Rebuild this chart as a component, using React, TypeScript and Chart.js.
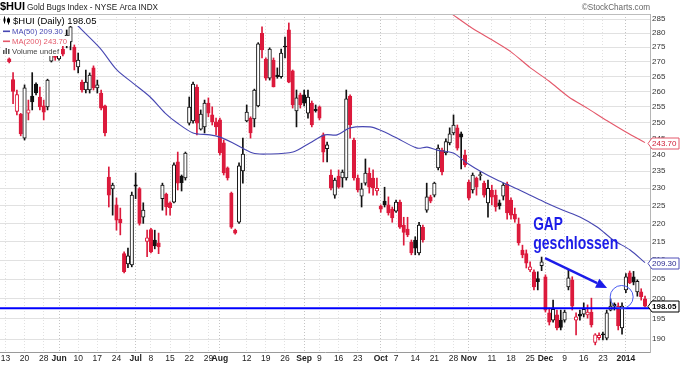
import React, { useEffect, useRef } from 'react';
import { Chart, registerables } from 'chart.js';

Chart.register(...registerables);

// ---------------- data ----------------
// trading-day index 0 = Mon 13 May 2013; first visible candle is day 1
const FIRST_DAY = 1;

const opens = [
  271.0, 264.0, 253.5, 252.7, 245.1, 253.0, 258.5, 262.5, 258.2, 255.3,
  255.0, 270.2, 274.0, 271.0, 274.4, 275.8, 276.9, 275.1, 268.2, 263.1,
  260.5, 260.5, 267.9, 261.2, 259.5, 255.3, 233.3, 229.8, 225.2, 221.2,
  211.7, 209.0, 208.7, 231.0, 229.9, 221.7, 215.0, 218.3, 215.4, 214.6,
  227.0, 228.3, 225.8, 226.0, 237.8, 233.6, 233.0, 249.8, 250.5, 261.5,
  247.9, 248.6, 256.2, 252.4, 250.2, 250.8, 243.6, 236.0, 228.6, 218.1,
  220.3, 235.1, 250.5, 251.4, 251.1, 255.3, 279.9, 270.9, 264.4, 270.6,
  265.5, 264.9, 275.4, 281.1, 266.9, 253.7, 258.9, 258.9, 253.0, 256.2,
  254.2, 255.0, 246.1, 241.8, 233.9, 228.0, 233.6, 233.0, 233.0, 258.5,
  244.5, 233.0, 227.7, 231.5, 234.5, 233.0, 229.2, 224.9, 226.3, 225.2,
  224.0, 223.4, 226.0, 219.5, 218.4, 214.8, 215.4, 211.9, 218.9, 223.7,
  227.5, 228.0, 236.0, 241.4, 240.5, 243.6, 246.7, 248.3, 246.4, 239.9,
  231.8, 229.5, 233.0, 233.7, 231.5, 225.8, 229.5, 228.0, 225.8, 227.7,
  231.2, 226.6, 222.6, 219.8, 212.7, 211.7, 207.4, 206.9, 205.1, 208.5,
  205.6, 196.4, 194.6, 195.9, 194.6, 194.6, 203.0, 204.8, 194.6, 196.1,
  196.1, 195.9, 196.6, 189.2, 190.3, 191.2, 190.2, 197.1, 198.6, 198.1,
  192.7, 202.2, 206.6, 205.6, 201.7, 201.7, 199.9,
];
const highs = [
  271.3, 266.3, 260.5, 252.9, 262.2, 257.2, 266.3, 262.9, 261.5, 257.2,
  264.1, 275.8, 275.0, 276.0, 275.5, 281.1, 282.9, 275.8, 273.0, 263.8,
  267.2, 266.2, 268.6, 263.8, 260.5, 255.6, 236.3, 231.5, 227.2, 224.3,
  212.2, 213.2, 228.9, 234.5, 230.2, 225.8, 218.1, 218.6, 218.1, 217.3,
  231.5, 228.6, 226.1, 237.5, 240.8, 233.9, 240.8, 258.2, 263.1, 262.2,
  254.0, 257.2, 257.9, 255.0, 251.4, 251.4, 244.5, 236.3, 228.9, 218.4,
  237.5, 245.1, 255.6, 251.8, 260.8, 276.6, 282.2, 271.3, 274.8, 271.3,
  267.9, 274.4, 278.6, 283.6, 267.2, 260.5, 259.5, 260.5, 260.5, 256.9,
  255.6, 255.3, 246.7, 243.9, 235.4, 233.0, 235.4, 235.4, 260.5, 258.9,
  245.1, 233.9, 231.5, 238.7, 236.0, 235.4, 233.0, 225.2, 230.3, 227.5,
  224.6, 226.6, 226.6, 221.7, 221.7, 215.4, 216.3, 220.3, 219.5, 231.5,
  228.0, 231.8, 243.0, 242.0, 244.9, 248.3, 252.4, 249.2, 247.0, 241.4,
  232.4, 234.5, 233.3, 234.8, 232.1, 232.4, 230.9, 229.5, 226.6, 231.5,
  231.8, 227.2, 224.3, 221.5, 214.0, 212.7, 209.5, 207.4, 206.9, 210.8,
  206.1, 197.6, 199.6, 197.1, 197.1, 197.1, 207.4, 205.6, 196.4, 197.1,
  198.9, 198.4, 200.1, 191.3, 191.5, 191.7, 197.1, 199.9, 198.9, 198.9,
  198.9, 206.4, 207.1, 207.0, 204.8, 202.5, 200.6,
];
const lows = [
  269.6, 256.0, 252.4, 245.8, 244.5, 250.8, 254.0, 258.9, 254.0, 250.8,
  254.0, 269.9, 270.5, 270.5, 272.0, 274.8, 274.1, 267.2, 266.2, 259.8,
  259.5, 259.5, 260.5, 259.5, 254.0, 245.8, 224.6, 222.3, 218.1, 216.8,
  206.6, 208.0, 208.2, 227.0, 219.5, 220.0, 210.9, 211.9, 213.0, 211.7,
  223.7, 222.3, 222.3, 225.8, 229.5, 229.2, 232.4, 249.2, 249.8, 246.1,
  247.6, 246.7, 251.8, 249.2, 246.1, 239.9, 233.9, 232.4, 218.6, 217.0,
  220.0, 231.5, 250.2, 245.1, 248.6, 255.0, 271.3, 263.8, 263.8, 261.5,
  264.4, 264.4, 271.3, 262.9, 254.6, 248.6, 254.6, 255.3, 251.4, 248.6,
  253.3, 250.8, 237.8, 237.8, 229.5, 227.1, 230.0, 230.3, 232.4, 245.1,
  232.4, 228.9, 224.6, 230.9, 228.6, 228.0, 228.0, 223.1, 224.6, 222.3,
  220.3, 223.1, 218.6, 214.0, 216.3, 211.4, 211.4, 211.4, 214.8, 223.1,
  225.8, 227.5, 235.4, 233.9, 239.9, 243.0, 246.1, 241.4, 235.7, 236.3,
  226.6, 228.6, 228.0, 232.4, 227.4, 221.7, 225.2, 223.4, 224.0, 226.6,
  221.2, 221.2, 220.3, 214.0, 210.6, 207.9, 206.9, 202.2, 202.2, 207.2,
  196.6, 193.4, 194.1, 192.2, 192.2, 194.1, 202.2, 197.1, 191.0, 194.6,
  195.4, 195.1, 192.9, 188.6, 189.8, 189.8, 189.8, 196.9, 197.1, 192.2,
  191.2, 201.5, 203.8, 203.5, 200.6, 199.6, 197.9,
];
const closes = [
  270.0, 260.0, 259.0, 246.4, 261.2, 254.0, 256.6, 259.5, 255.0, 253.3,
  263.8, 275.1, 271.5, 274.5, 272.6, 279.3, 282.2, 269.9, 270.6, 260.5,
  263.1, 265.5, 261.2, 262.2, 254.6, 246.7, 228.0, 230.9, 220.9, 220.1,
  206.9, 211.1, 228.0, 230.6, 220.0, 223.7, 216.0, 212.2, 213.8, 213.5,
  230.9, 224.6, 224.4, 236.9, 231.5, 231.6, 240.5, 254.9, 262.5, 249.8,
  252.7, 256.2, 253.0, 250.2, 248.6, 240.5, 234.5, 233.0, 218.9, 217.3,
  236.6, 240.2, 253.3, 246.7, 260.5, 276.2, 274.1, 264.4, 274.4, 261.5,
  264.9, 273.0, 275.1, 263.1, 255.6, 257.9, 255.6, 256.2, 258.2, 249.2,
  253.8, 251.4, 240.8, 243.0, 230.0, 232.4, 230.3, 234.8, 257.6, 249.2,
  233.0, 229.5, 229.8, 234.5, 230.3, 230.1, 230.0, 224.0, 225.2, 222.9,
  221.5, 226.0, 218.9, 217.5, 216.8, 211.9, 213.2, 219.5, 215.4, 227.5,
  226.3, 231.5, 242.0, 234.8, 244.0, 246.4, 249.2, 242.0, 245.4, 236.9,
  227.1, 233.9, 230.3, 233.9, 228.0, 230.0, 227.4, 224.6, 224.9, 230.9,
  222.9, 222.3, 221.2, 214.6, 211.4, 209.2, 208.2, 203.0, 204.3, 209.5,
  197.1, 194.1, 197.3, 192.7, 192.8, 196.6, 205.3, 198.1, 195.4, 195.6,
  197.3, 196.6, 193.4, 191.0, 190.9, 191.0, 196.4, 198.1, 198.2, 193.2,
  198.1, 205.6, 204.0, 204.2, 204.4, 200.5, 198.05,
];

// moving averages (trading-day index, value)
const ma50Days = [15, 18.7, 24.7, 29.1, 33.3, 37.8, 41.7, 44.8, 49, 53.4, 56, 59.4, 64.6, 68.3, 75.1, 79.5, 83.4, 86.6, 90, 95.2, 97.8, 102.2, 107.5, 110.1, 112.7, 116.9, 120.5, 123.9, 128.4, 132.5, 137, 141.4, 145.6, 150, 154.5, 158.7, 163.1, 167];
const ma50Values = [289.0, 282.9, 274.7, 267.2, 262.8, 258.2, 253.0, 249.9, 246.7, 246.1, 245.4, 243.6, 240.5, 240.2, 240.8, 243.6, 246.1, 246.1, 248.3, 248.6, 247.6, 245.1, 242.0, 242.3, 241.4, 240.5, 237.5, 235.1, 232.4, 230.4, 228.0, 225.7, 223.7, 221.8, 219.0, 215.4, 212.7, 209.3];
const ma200Days = [116, 122, 127, 132, 137, 142, 147, 152, 157, 162, 167];
const ma200Values = [287.4, 281.6, 277.6, 273.4, 268.0, 263.4, 258.3, 254.5, 250.6, 247.0, 243.7];

const gapLevel = 197.55;

const yTicks = [190, 195, 200, 205, 210, 215, 220, 225, 230, 235, 240, 245, 250, 255, 260, 265, 270, 275, 280, 285];
const xTickDays = [0, 5, 10, 14, 19, 24, 29, 34, 38, 43, 48, 53, 56, 63, 68, 73, 78, 82, 87, 92, 98, 102, 107, 112, 117, 121, 127, 132, 137, 141, 146, 151, 156, 162];
const xTickLabels = ['13', '20', '28', 'Jun', '10', '17', '24', 'Jul', '8', '15', '22', '29', 'Aug', '12', '19', '26', 'Sep', '9', '16', '23', 'Oct', '7', '14', '21', '28', 'Nov', '11', '18', '25', 'Dec', '9', '16', '23', '2014'];
const monthLabels = ['Jun', 'Jul', 'Aug', 'Sep', 'Oct', 'Nov', 'Dec', '2014'];

// ---------------- styling ----------------
const X_MIN = -1.41;
const X_MAX = 168.3;
const Y_MIN = 186.9;
const Y_MAX = 286.84;
const RED = '#dc1a3c';
const BLACK = '#111111';
const MA50_COLOR = '#4747b2';
const MA200_COLOR = '#e4586a';
const GAP_BLUE = '#1c1ce8';
const FONT = '"Liberation Sans", Arial, sans-serif';

const candleColor = (k: number) => {
  const prev = k > 0 ? closes[k - 1] : opens[k];
  return closes[k] < prev ? RED : BLACK;
};
const isFilled = (k: number) => closes[k] < opens[k];

const overlayPlugin = {
  id: 'overlay',
  afterDraw(chart: any) {
    const { ctx, chartArea, scales } = chart;
    const xs = scales.x;
    const ys = scales.y;
    ctx.save();

    // top frame
    ctx.strokeStyle = '#bdbdbd';
    ctx.lineWidth = 1;
    ctx.beginPath();
    ctx.moveTo(chartArea.left, chartArea.top + 0.5);
    ctx.lineTo(chartArea.right, chartArea.top + 0.5);
    ctx.stroke();

    // header
    ctx.textAlign = 'left';
    ctx.textBaseline = 'alphabetic';
    ctx.fillStyle = '#000';
    ctx.font = `bold 11px ${FONT}`;
    ctx.fillText('$HUI', 0, 10);
    ctx.font = `8.2px ${FONT}`;
    ctx.fillStyle = '#222';
    ctx.fillText('Gold Bugs Index - NYSE Arca INDX', 27, 10);
    ctx.textAlign = 'right';
    ctx.fillStyle = '#666';
    ctx.font = `8.2px ${FONT}`;
    ctx.fillText('\u00A9StockCharts.com', chartArea.right, 10);

    // GAP annotation (anchored in data coordinates)
    const gx = xs.getPixelForValue(137.8);
    ctx.fillStyle = GAP_BLUE;
    ctx.textAlign = 'left';
    ctx.font = `bold 18px ${FONT}`;
    ctx.save();
    ctx.translate(gx, ys.getPixelForValue(218.1));
    ctx.scale(0.76, 1);
    ctx.fillText('GAP', 0, 0);
    ctx.restore();
    ctx.save();
    ctx.translate(gx, ys.getPixelForValue(212.9));
    ctx.scale(0.78, 1);
    ctx.fillText('geschlossen', 0, 0);
    ctx.restore();

    const ax0 = xs.getPixelForValue(140.9);
    const ay0 = ys.getPixelForValue(210.5);
    const ax1 = xs.getPixelForValue(157.1);
    const ay1 = ys.getPixelForValue(202.7);
    const ang = Math.atan2(ay1 - ay0, ax1 - ax0);
    const cs = Math.cos(ang);
    const sn = Math.sin(ang);
    const hl = 11;
    const hw = 5;
    ctx.strokeStyle = GAP_BLUE;
    ctx.lineWidth = 2.4;
    ctx.beginPath();
    ctx.moveTo(ax0, ay0);
    ctx.lineTo(ax1 - hl * cs, ay1 - hl * sn);
    ctx.stroke();
    ctx.beginPath();
    ctx.moveTo(ax1, ay1);
    ctx.lineTo(ax1 - hl * cs + hw * sn, ay1 - hl * sn - hw * cs);
    ctx.lineTo(ax1 - hl * cs - hw * sn, ay1 - hl * sn + hw * cs);
    ctx.closePath();
    ctx.fill();

    ctx.strokeStyle = '#4a5cf0';
    ctx.lineWidth = 1;
    ctx.beginPath();
    ctx.arc(xs.getPixelForValue(160.9), ys.getPixelForValue(200.4), 11.5, 0, Math.PI * 2);
    ctx.stroke();

    // legend
    const rows = [
      { y: 20.5, h: 11, x2: 99, font: `9.5px ${FONT}`, color: '#000', text: `$HUI (Daily) ${closes[closes.length - 1].toFixed(2)}`, icon: 'candle' },
      { y: 31, h: 10, x2: 63, font: `7.7px ${FONT}`, color: MA50_COLOR, text: `MA(50) ${ma50Values[ma50Values.length - 1].toFixed(2)}`, icon: 'dash' },
      { y: 41, h: 10, x2: 70, font: `7.7px ${FONT}`, color: MA200_COLOR, text: `MA(200) ${ma200Values[ma200Values.length - 1].toFixed(2)}`, icon: 'dash' },
      { y: 51, h: 10, x2: 61, font: `7.7px ${FONT}`, color: '#444', text: 'Volume undef', icon: 'bars' },
    ];
    rows.forEach((r) => {
      ctx.fillStyle = '#fff';
      ctx.fillRect(1, r.y - r.h / 2, r.x2 - 1, r.h);
    });
    rows.forEach((r) => {
      ctx.fillStyle = r.color;
      ctx.strokeStyle = r.color;
      if (r.icon === 'dash') {
        ctx.fillRect(3, r.y - 0.5, 7, 1.6);
      } else if (r.icon === 'bars') {
        ctx.fillStyle = '#555';
        ctx.fillRect(3, r.y - 1, 1.5, 4);
        ctx.fillRect(5.5, r.y - 3, 1.5, 6);
        ctx.fillRect(8, r.y - 2, 1.5, 5);
      } else {
        ctx.lineWidth = 1;
        ctx.beginPath();
        ctx.moveTo(4.5, r.y - 4); ctx.lineTo(4.5, r.y + 3);
        ctx.moveTo(8.5, r.y - 3); ctx.lineTo(8.5, r.y + 4);
        ctx.stroke();
        ctx.fillRect(3.5, r.y - 2, 2, 3);
        ctx.strokeRect(7.5, r.y - 1.5, 2, 3);
      }
      ctx.fillStyle = r.color;
      ctx.font = r.font;
      ctx.textAlign = 'left';
      ctx.textBaseline = 'middle';
      ctx.fillText(r.text, r.icon === 'candle' ? 13 : 12, r.y + 0.5);
    });

    // price tags on the right axis
    const tag = (value: number, stroke: string, color: string, bold: boolean) => {
      const cy = Math.round(ys.getPixelForValue(value)) + 0.5;
      const l = chartArea.right - 2;
      ctx.fillStyle = '#fff';
      ctx.strokeStyle = stroke;
      ctx.lineWidth = 1;
      ctx.beginPath();
      ctx.moveTo(l, cy);
      ctx.lineTo(l + 4, cy - 5.5);
      ctx.lineTo(679, cy - 5.5);
      ctx.lineTo(679, cy + 5.5);
      ctx.lineTo(l + 4, cy + 5.5);
      ctx.closePath();
      ctx.fill();
      ctx.stroke();
      ctx.fillStyle = color;
      ctx.font = `${bold ? 'bold ' : ''}8px ${FONT}`;
      ctx.textAlign = 'left';
      ctx.textBaseline = 'middle';
      ctx.fillText(value.toFixed(2), l + 4, cy + 0.5);
    };
    tag(ma200Values[ma200Values.length - 1], MA200_COLOR, '#d0203a', false);
    tag(ma50Values[ma50Values.length - 1], '#5050b8', '#2a2a90', false);
    tag(closes[closes.length - 1], '#000', '#000', true);

    ctx.restore();
  },
};

export default function App() {
  const canvasRef = useRef<HTMLCanvasElement | null>(null);

  useEffect(() => {
    if (!canvasRef.current) return;
    const wickData = closes.map((_, k) => ({
      x: FIRST_DAY + k,
      y: [Math.min(lows[k], opens[k], closes[k]), Math.max(highs[k], opens[k], closes[k])],
    }));
    const bodyData = closes.map((c, k) => ({ x: FIRST_DAY + k, y: [opens[k], c] }));
    const colors = closes.map((_, k) => candleColor(k));
    const fills = closes.map((_, k) => (isFilled(k) ? colors[k] : '#ffffff'));

    const chart = new Chart(canvasRef.current, {
      type: 'bar',
      data: {
        datasets: [
          {
            type: 'line',
            label: 'gap',
            data: [{ x: X_MIN, y: gapLevel }, { x: X_MAX, y: gapLevel }],
            borderColor: '#0000ff',
            borderWidth: 2.2,
            pointRadius: 0,
            order: -2,
          } as any,
          {
            type: 'line',
            label: 'MA200',
            data: ma200Days.map((d, k) => ({ x: d, y: ma200Values[k] })),
            borderColor: MA200_COLOR,
            borderWidth: 1.1,
            pointRadius: 0,
            tension: 0.3,
            order: -1,
          } as any,
          {
            type: 'line',
            label: 'MA50',
            data: ma50Days.map((d, k) => ({ x: d, y: ma50Values[k] })),
            borderColor: MA50_COLOR,
            borderWidth: 1.1,
            pointRadius: 0,
            tension: 0.3,
            order: -1,
          } as any,
          {
            label: 'body',
            data: bodyData as any,
            backgroundColor: fills,
            borderColor: colors,
            borderWidth: 1,
            borderSkipped: false,
            barThickness: 3.5,
            grouped: false,
            minBarLength: 1,
            order: 0,
          } as any,
          {
            label: 'wick',
            data: wickData as any,
            backgroundColor: colors,
            borderWidth: 0,
            barThickness: 1,
            grouped: false,
            order: 1,
          } as any,
        ],
      },
      options: {
        responsive: false,
        animation: false,
        devicePixelRatio: 1,
        layout: { padding: { top: 14, left: 0, right: 0, bottom: 0 } },
        plugins: {
          legend: { display: false },
          tooltip: { enabled: false },
          title: { display: false },
        },
        scales: {
          x: {
            type: 'linear',
            position: 'bottom',
            min: X_MIN,
            max: X_MAX,
            offset: false,
            grid: {
              offset: false,
              drawTicks: false,
              color: (ctx: any) =>
                ctx.index !== undefined && monthLabels.includes(xTickLabels[ctx.index]) ? '#c4c4c4' : '#e1e1e1',
            },
            border: { display: true, color: '#9a9a9a', dash: [1, 2] },
            afterBuildTicks: (s: any) => {
              s.ticks = xTickDays.map((v) => ({ value: v }));
            },
            afterFit: (s: any) => {
              s.height = 13;
              s.paddingLeft = 0;
              s.paddingRight = 0;
            },
            ticks: {
              autoSkip: false,
              maxRotation: 0,
              minRotation: 0,
              padding: 2,
              color: '#222',
              font: (ctx: any) => ({
                family: FONT,
                size: 8.5,
                weight: ctx.index !== undefined && monthLabels.includes(xTickLabels[ctx.index]) ? 'bold' : 'normal',
              }),
              callback: (_v: any, i: number) => xTickLabels[i],
            },
          },
          y: {
            type: 'logarithmic',
            position: 'right',
            min: Y_MIN,
            max: Y_MAX,
            grid: { drawTicks: false, color: '#e1e1e1' },
            border: { display: true, color: '#b5b5b5' },
            afterBuildTicks: (s: any) => {
              s.ticks = yTicks.map((v) => ({ value: v }));
            },
            afterFit: (s: any) => {
              s.width = 30;
              s.paddingTop = 0;
              s.paddingBottom = 0;
            },
            ticks: {
              padding: 2,
              color: '#333',
              font: { family: FONT, size: 8 },
              callback: (v: any) => String(v),
            },
          },
        },
      } as any,
      plugins: [overlayPlugin],
    });
    return () => chart.destroy();
  }, []);

  return (
    <div style={{ position: 'fixed', left: 0, top: 0, width: 680, height: 365, background: '#fff' }}>
      <canvas ref={canvasRef} width={680} height={365} style={{ width: 680, height: 365 }} />
    </div>
  );
}
